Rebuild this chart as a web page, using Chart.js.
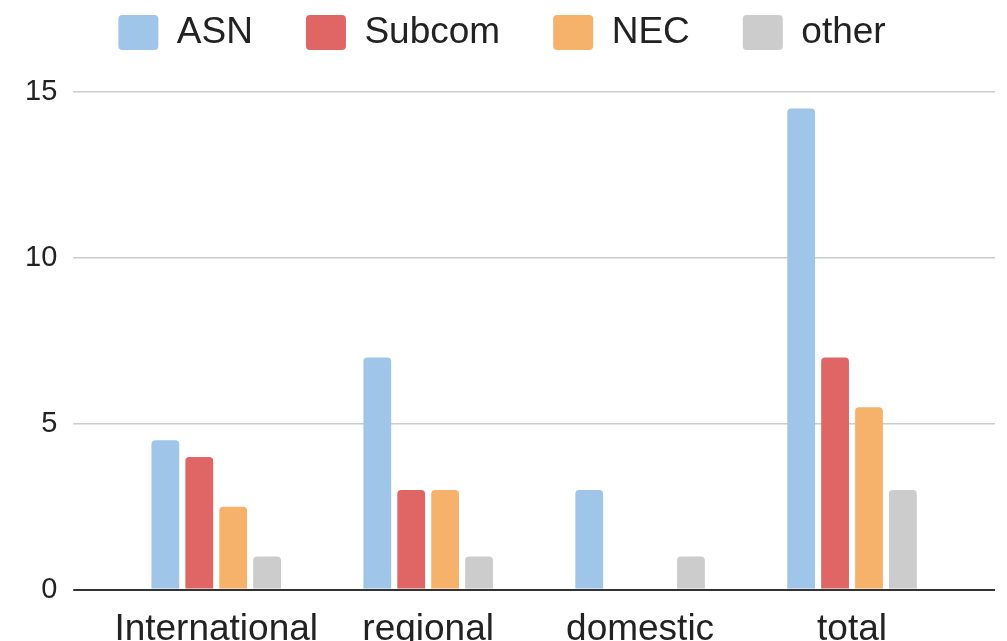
<!DOCTYPE html>
<html>
<head>
<meta charset="utf-8">
<script src="https://cdn.jsdelivr.net/npm/chart.js@4"></script>
<style>
  html, body { margin: 0; padding: 0; background: #fff; overflow: hidden; }
  #wrap { width: 1007px; height: 662px; }
</style>
</head>
<body>
<div id="wrap"><canvas id="cableChart"></canvas></div>
<script>
let categories = ['International', 'regional', 'domestic', 'total'];
let asnValues = [4.5, 7, 3, 14.5];
let subcomValues = [4, 3, 0, 7];
let necValues = [2.5, 3, 0, 5.5];
let otherValues = [1, 1, 1, 3];
let yTicks = [0, 5, 10, 15];

let fontFamily = "'Liberation Sans', Arial, Helvetica, sans-serif";

function gridColor(ctx) {
  return ctx.tick && ctx.tick.value === 0 ? '#333333' : '#cccccc';
}
function gridWidth(ctx) {
  return ctx.tick && ctx.tick.value === 0 ? 2 : 1.5;
}

let bar = {
  borderRadius: 4,
  borderSkipped: 'bottom',
  categoryPercentage: 0.64,
  barPercentage: 0.82
};

let ctx = document.getElementById('cableChart').getContext('2d');
let cableChart = new Chart(ctx, {
  type: 'bar',
  data: {
    labels: categories,
    datasets: [
      Object.assign({ label: 'ASN', data: asnValues, backgroundColor: '#9fc5e8' }, bar),
      Object.assign({ label: 'Subcom', data: subcomValues, backgroundColor: '#e06666' }, bar),
      Object.assign({ label: 'NEC', data: necValues, backgroundColor: '#f6b26b' }, bar),
      Object.assign({ label: 'other', data: otherValues, backgroundColor: '#cccccc' }, bar)
    ]
  },
  options: {
    responsive: true,
    maintainAspectRatio: false,
    animation: false,
    layout: {
      padding: { left: 9, right: 12, top: -39, bottom: 0 }
    },
    plugins: {
      tooltip: { enabled: false },
      // empty title used only as a gap between legend and plot
      title: {
        display: true,
        text: ' ',
        weight: 500,
        padding: { top: 10, bottom: 9 },
        font: { size: 10 }
      },
      legend: {
        position: 'top',
        labels: {
          boxWidth: 40,
          boxHeight: 35,
          padding: 53,
          useBorderRadius: true,
          borderRadius: 4,
          color: '#222222',
          font: { family: fontFamily, size: 37 }
        }
      }
    },
    scales: {
      x: {
        grid: { display: false },
        border: { display: false },
        ticks: {
          color: '#222222',
          padding: 10,
          maxRotation: 0,
          font: { family: fontFamily, size: 37 }
        }
      },
      y: {
        position: 'left',
        min: 0,
        max: 15,
        afterBuildTicks: function (axis) {
          axis.ticks = yTicks.map(v => ({ value: v }));
        },
        border: { display: false },
        grid: {
          color: gridColor,
          tickColor: gridColor,
          lineWidth: gridWidth,
          tickLength: 37
        },
        ticks: {
          color: '#222222',
          padding: 16,
          font: { family: fontFamily, size: 29 }
        }
      },
      yRight: {
        position: 'right',
        min: 0,
        max: 15,
        afterBuildTicks: function (axis) {
          axis.ticks = yTicks.map(v => ({ value: v }));
        },
        border: { display: false },
        grid: {
          drawOnChartArea: false,
          color: gridColor,
          tickColor: gridColor,
          lineWidth: gridWidth,
          tickLength: 37
        },
        ticks: { display: false }
      }
    }
  }
});
</script>
</body>
</html>
